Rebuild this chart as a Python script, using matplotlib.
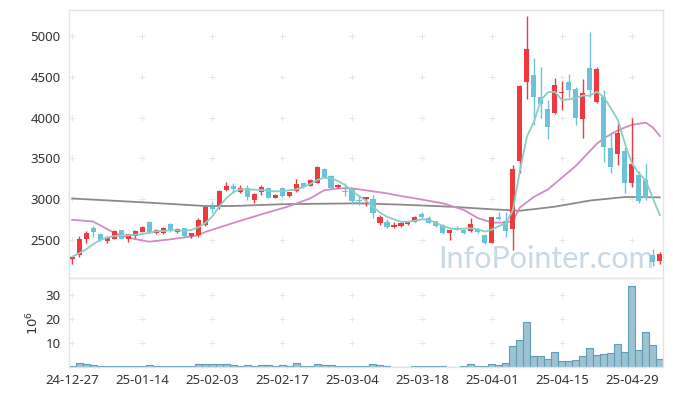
import matplotlib
matplotlib.use("Agg")
import matplotlib.pyplot as plt
import numpy as np

plt.rcParams['font.family'] = ['Noto Sans', 'DejaVu Sans']

# ---------------- data ----------------
opens = [2266, 2315, 2520, 2645, 2572, 2485, 2518, 2620, 2518, 2551,
         2605, 2722, 2592, 2591, 2698, 2605, 2645, 2551, 2563, 2686,
         2902, 2922, 3115, 3163, 3089, 3142, 2992, 3086, 3142, 3020,
         3142, 3042, 3105, 3198, 3167, 3204, 3375, 3285, 3145, 3105,
         3130, 2995, 3004, 3004, 2714, 2722, 2665, 2669, 2694, 2726,
         2824, 2775, 2730, 2685, 2584, 2650, 2620, 2616, 2641, 2563,
         2469, 2780, 2730, 2633, 3472, 4440, 4521, 4249, 4105, 4060,
         4297, 4440, 4346, 3979, 4603, 4195, 4249, 3632, 3551, 3595,
         3196, 3297, 3236, 2318, 2248]
highs = [2300, 2554, 2612, 2677, 2590, 2545, 2625, 2630, 2580, 2630,
         2670, 2730, 2640, 2665, 2710, 2650, 2650, 2590, 2770, 2920,
         2971, 3120, 3215, 3200, 3175, 3175, 3075, 3180, 3150, 3060,
         3150, 3095, 3248, 3205, 3245, 3410, 3385, 3295, 3190, 3200,
         3140, 3050, 3030, 3050, 2810, 2760, 2720, 2720, 2735, 2790,
         2848, 2800, 2740, 2695, 2635, 2670, 2630, 2775, 2650, 2570,
         2785, 2848, 2848, 3419, 4395, 5244, 4726, 4615, 4215, 4481,
         4448, 4530, 4378, 4469, 5051, 4623, 4338, 3827, 3930, 3644,
         3991, 3350, 3440, 2388, 2355]
lows = [2208, 2297, 2462, 2535, 2490, 2470, 2510, 2510, 2480, 2530,
        2595, 2580, 2580, 2580, 2600, 2590, 2540, 2530, 2540, 2670,
        2829, 2880, 3100, 3077, 3080, 2990, 2955, 3050, 3010, 3010,
        3030, 3030, 3095, 3140, 3160, 3195, 3265, 3130, 3135, 3040,
        2939, 2930, 2922, 2768, 2690, 2655, 2650, 2660, 2688, 2720,
        2759, 2705, 2665, 2575, 2502, 2620, 2575, 2605, 2590, 2455,
        2460, 2750, 2542, 2379, 3318, 4224, 3909, 3991, 3734, 4044,
        4093, 4249, 3909, 3747, 4249, 4175, 3460, 3326, 3420, 3081,
        3154, 2951, 2991, 2184, 2208]
closes = [2295, 2520, 2590, 2605, 2500, 2535, 2612, 2520, 2572, 2612,
          2660, 2605, 2628, 2652, 2612, 2633, 2551, 2584, 2747, 2910,
          2877, 3102, 3163, 3126, 3138, 3032, 3065, 3150, 3020, 3053,
          3037, 3089, 3190, 3154, 3236, 3400, 3277, 3142, 3179, 3095,
          2983, 2985, 3024, 2836, 2785, 2665, 2685, 2710, 2726, 2780,
          2787, 2714, 2673, 2584, 2628, 2640, 2584, 2698, 2596, 2461,
          2780, 2759, 2616, 3367, 4386, 4836, 4249, 4167, 3881, 4399,
          4317, 4338, 3999, 4305, 4338, 4591, 3644, 3399, 3815, 3196,
          3432, 2983, 3012, 2229, 2330]
volumes = [0.4, 1.5, 1.1, 0.7, 0.3, 0.3, 0.3, 0.3, 0.3, 0.3,
           0.3, 0.7, 0.3, 0.3, 0.3, 0.3, 0.3, 0.3, 1.1, 1.1,
           1.1, 1.1, 1.1, 0.7, 0.3, 0.7, 0.3, 0.7, 0.7, 0.3,
           0.7, 0.3, 1.5, 0.3, 0.3, 1.1, 0.7, 0.7, 0.3, 0.3,
           0.3, 0.3, 0.3, 1.1, 0.7, 0.3, 0.0, 0.0, 0.0, 0.3,
           0.3, 0.3, 0.3, 0.3, 0.0, 0.0, 0.3, 1.1, 0.3, 0.3,
           1.1, 0.7, 1.5, 8.6, 11.1, 18.6, 4.4, 4.4, 3.2, 6.1,
           2.4, 2.4, 2.8, 4.4, 7.8, 4.9, 5.3, 5.7, 9.4, 6.1,
           33.6, 6.9, 14.4, 9.0, 3.2]

ma5_idx = list(range(85))
ma5_val = [2297, 2340, 2388, 2450, 2502, 2530, 2551, 2555, 2559, 2567,
           2575, 2590, 2608, 2612, 2620, 2620, 2616, 2624, 2657, 2706,
           2787, 2910, 3012, 3086, 3122, 3122, 3118, 3114, 3105, 3098,
           3098, 3110, 3122, 3147, 3187, 3236, 3265, 3257, 3224, 3175,
           3103, 3040, 2983, 2910, 2836, 2787, 2755, 2724, 2726, 2738,
           2755, 2747, 2714, 2673, 2645, 2633, 2641, 2645, 2633, 2604,
           2630, 2673, 2706, 2869, 3350, 3766, 3950, 4215, 4310, 4317,
           4215, 4224, 4244, 4269, 4269, 4317, 4249, 4114, 3971, 3685,
           3440, 3318, 3228, 3012, 2808]

ma20_idx = [0, 3, 6, 8, 11, 14, 17, 18, 19, 23, 27, 31, 34, 36, 38, 40, 42,
            45, 47, 49, 53, 56, 58, 60, 62, 63, 64, 66, 68, 72, 75, 76, 78,
            80, 82, 83, 84]
ma20_val = [2750, 2728, 2590, 2530, 2481, 2510, 2545, 2560, 2600, 2710,
            2815, 2915, 3010, 3110, 3134, 3134, 3110, 3073, 3040, 3012,
            2951, 2869, 2770, 2715, 2714, 2740, 2900, 3030, 3120, 3410,
            3680, 3747, 3845, 3912, 3938, 3880, 3775]

ma60_idx = [0, 11, 19, 23, 30, 41, 47, 54, 60, 64, 69, 74, 79, 84]
ma60_val = [3010, 2959, 2918, 2918, 2940, 2951, 2935, 2910, 2878, 2860,
            2910, 2985, 3028, 3024]

tick_pos = [0, 10, 20, 30, 40, 50, 60, 70, 80]
tick_labels = ['24-12-27', '25-01-14', '25-02-03', '25-02-17', '25-03-04',
               '25-03-18', '25-04-01', '25-04-15', '25-04-29']
price_ticks = [2500, 3000, 3500, 4000, 4500, 5000]
vol_ticks = [10, 20, 30]

# ---------------- figure ----------------
W, H = 673, 396
fig = plt.figure(figsize=(W / 100, H / 100), dpi=100)
L, R = 69, 663
ax = fig.add_axes([L / W, (H - 278) / H, (R - L) / W, (278 - 10) / H])
axv = fig.add_axes([L / W, (H - 367) / H, (R - L) / W, (367 - 278) / H], sharex=ax)

UP = '#ee3a3e'
DOWN = '#6cc2d8'
n = len(opens)
x = np.arange(n)
o = np.array(opens, float); c = np.array(closes, float)
hi = np.array(highs, float); lo = np.array(lows, float)
cols = [UP if cc >= oo else DOWN for oo, cc in zip(o, c)]

ax.vlines(x, lo, hi, colors=cols, linewidth=1.0, zorder=3)
body_bot = np.minimum(o, c)
body_h = np.maximum(np.abs(c - o), 8)
ax.bar(x, body_h, bottom=body_bot, width=0.72, color=cols, linewidth=0, zorder=4)

ax.plot(ma60_idx, ma60_val, color='#8a8a8a', lw=1.3, zorder=2)
ax.plot(ma20_idx, ma20_val, color='#cf8cc4', lw=1.3, zorder=2)
ax.plot(ma5_idx, ma5_val, color='#88cfc6', lw=1.3, zorder=5)

# "+" grid marks
gx, gy = np.meshgrid(tick_pos, price_ticks)
ax.scatter(gx.ravel(), gy.ravel(), marker='+', s=14, color='#e6e6e6', linewidths=0.7, zorder=0)
gx2, gy2 = np.meshgrid(tick_pos, vol_ticks)
axv.scatter(gx2.ravel(), gy2.ravel(), marker='+', s=14, color='#e6e6e6', linewidths=0.7, zorder=0)

ax.set_xlim(-0.45, n - 0.55)
ax.set_ylim(2037, 5317)
ax.set_yticks(price_ticks)
ax.set_yticklabels([str(t) for t in price_ticks])
ax.tick_params(axis='y', length=0, pad=6, labelsize=9.5, labelcolor='#333333')
ax.tick_params(axis='x', length=0, labelbottom=False)

ax.text(0.985, 0.02, 'InfoPointer.com', transform=ax.transAxes, ha='right', va='bottom',
        fontsize=22, color='#c6d9e4', family=['Lato', 'DejaVu Sans'], zorder=1)

axv.bar(x, volumes, width=1.0, color='#9dc3d3', edgecolor='#5f9db8', linewidth=0.8, zorder=2)
axv.set_ylim(0, 37.1)
axv.set_yticks(vol_ticks)
axv.set_yticklabels([str(t) for t in vol_ticks])
axv.tick_params(axis='y', length=0, pad=6, labelsize=9.5, labelcolor='#333333')
axv.set_xticks(tick_pos)
axv.set_xticklabels(tick_labels)
axv.tick_params(axis='x', length=0, pad=5, labelsize=9.5, labelcolor='#333333')
axv.set_ylabel(r'$10^{6}$', fontsize=9.5, color='#333333', labelpad=3)

for a in (ax, axv):
    for s in a.spines.values():
        s.set_color('#e3e3e3')
        s.set_linewidth(1.0)

fig.savefig('out.png', dpi=100)
